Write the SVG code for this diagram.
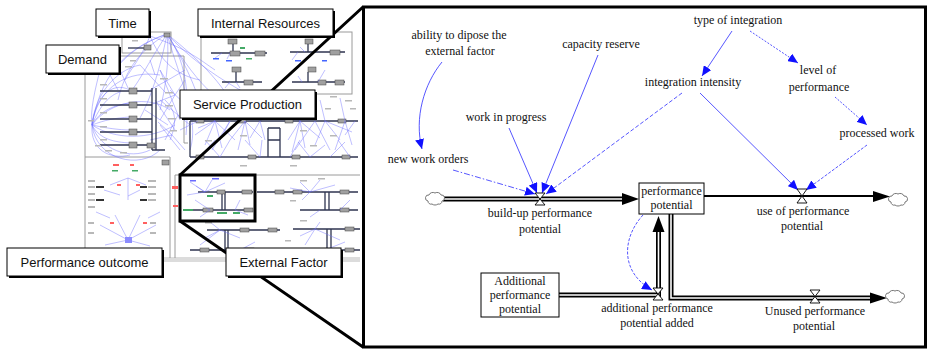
<svg xmlns="http://www.w3.org/2000/svg" width="929" height="350" viewBox="0 0 929 350">
<style>
 .lbl{font-family:"Liberation Sans",Arial,sans-serif;font-size:13px;fill:#111;text-anchor:middle}
 .t{font-family:"Liberation Serif","Times New Roman",serif;font-size:12px;fill:#111;text-anchor:middle}
 .frame{fill:none;stroke:#9a9a9a;stroke-width:1}
 .bl{fill:none;stroke:#6f6fff;stroke-width:0.6;opacity:0.75}
 .dk{fill:none;stroke:#2f3550;stroke-width:1.3}
 .st{fill:#a0a0a0;stroke:#444;stroke-width:0.5}
 .tx{fill:#b8b8b8}
 .rd{fill:#ff6060}
 .gr{fill:#44aa66}
 .lk{fill:none;stroke:#2b2bff;stroke-width:0.8}
 .pipeo{fill:none;stroke:#000;stroke-width:5}
 .pipei{fill:none;stroke:#fff;stroke-width:1.6}
 .valve{fill:#fff;stroke:#000;stroke-width:0.9}
 .cloud{fill:#fff;stroke:#666;stroke-width:0.9}
 .box{fill:#fff;stroke:#000;stroke-width:1}
 .shadow{fill:#000}
 .zoomline{fill:none;stroke:#000;stroke-width:3}
</style>
<defs>
 <marker id="ba" markerUnits="userSpaceOnUse" markerWidth="11" markerHeight="9" refX="10" refY="4.5" orient="auto">
  <path d="M0,0 L10,4.5 L0,9 Z" fill="#1010ff"/>
 </marker>
</defs>
<rect width="929" height="350" fill="#fff"/>

<!-- ===== Thumbnail overview ===== -->
<g id="thumbnail">
 <rect x="163" y="257" width="197" height="5" fill="#dcdcdc"/>
 <!-- frames -->
 <rect class="frame" x="122" y="32" width="49" height="21"/>
 <rect class="frame" x="201" y="32" width="151" height="62"/>
 <path class="frame" d="M85,56 H184 V143 H188 M85,56 V248 M85,157 H170 V258 M175,175 V258 M175,175 H360"/>
 <!-- blue link web -->
 <path class="bl" d="M167,34 C150,60 140,80 132,90 M167,34 C190,70 200,100 205,121 M167,34 C200,60 230,90 240,121 M167,34 C170,60 165,90 160,110 M167,34 C120,50 100,80 92,125 M150,36 C190,50 200,60 215,70 M167,34 C210,80 260,100 300,121"/>
 <path class="bl" d="M167,34 C140,50 125,70 118,100 M167,34 C185,60 190,90 186,135 M167,34 C160,70 150,100 140,118 M167,34 C200,90 225,110 262,121 M167,34 C180,80 200,120 190,150 M150,36 C160,60 175,75 200,80 M167,34 C150,40 130,50 115,70 M150,36 C140,60 130,70 125,80"/>
 <path class="bl" d="M92,125 C95,100 110,80 130,90 M92,125 C100,110 115,105 130,103 M92,125 C105,120 115,118 130,117 M92,125 C105,128 120,130 130,130 M92,125 C100,140 115,142 130,143 M92,125 C100,150 130,160 150,150 M92,125 C95,95 115,70 140,65 M92,125 C96,160 140,170 160,150"/>
 <path class="bl" d="M92,125 C98,85 130,70 160,75 M92,125 C110,100 150,95 170,110 M92,125 C115,140 150,140 175,125 M92,125 C90,150 110,160 130,155 M92,125 C100,105 110,95 120,92 M100,70 C95,90 90,110 92,125"/>
 <path class="bl" d="M160,70 L175,95 M160,70 L180,120 M140,65 L165,92 M165,100 C175,110 178,120 170,140 M170,90 L186,105 M150,60 L155,75 M120,70 L128,88 M110,75 L118,90 M155,100 L175,130 M160,125 L180,150 M145,110 L168,125"/>
 <path class="bl" d="M175,95 L150,105 M175,95 L160,120 M175,95 L185,80 M178,115 L160,100 M178,115 L165,140 M178,115 L190,125 M172,135 L158,122 M172,135 L185,150 M172,135 L150,140 M168,80 L150,90 M168,80 L185,70"/>
 <!-- demand stocks -->
 <path class="dk" d="M100,91 H152 M100,105 H152 M100,119 H152 M100,132 H152 M100,145 H152 M152,88 V150 M156,88 V150 M152,150 H165"/>
 <rect class="st" x="129" y="88" width="8" height="6"/>
 <rect class="st" x="129" y="102" width="8" height="6"/>
 <rect class="st" x="129" y="116" width="8" height="6"/>
 <rect class="st" x="129" y="129" width="8" height="6"/>
 <rect class="st" x="129" y="142" width="8" height="6"/>
 <rect class="st" x="147" y="143" width="8" height="5"/>
 <rect class="st" x="162" y="160" width="7" height="5"/>
 <g class="tx">
  <rect x="100" y="84" width="7" height="1.5"/><rect x="100" y="98" width="7" height="1.5"/><rect x="100" y="112" width="7" height="1.5"/>
  <rect x="100" y="126" width="7" height="1.5"/><rect x="100" y="139" width="7" height="1.5"/><rect x="110" y="68" width="8" height="1.5"/>
  <rect x="125" y="66" width="7" height="1.5"/><rect x="160" y="78" width="8" height="1.5"/><rect x="165" y="92" width="8" height="1.5"/>
  <rect x="165" y="105" width="8" height="1.5"/><rect x="168" y="118" width="8" height="1.5"/><rect x="170" y="130" width="7" height="1.5"/>
  <rect x="105" y="150" width="7" height="1.5"/><rect x="120" y="152" width="7" height="1.5"/><rect x="88" y="120" width="6" height="1.5"/>
  <rect x="95" y="145" width="6" height="1.5"/><rect x="130" y="60" width="6" height="1.5"/>
 </g>
 <!-- time -->
 <path class="dk" d="M128,48 H150" stroke-width="0.8"/>
 <rect class="st" x="144" y="45" width="7" height="5"/>
 <rect class="tx" x="132" y="40" width="6" height="1.5"/>
 <rect class="st" x="164" y="33" width="6" height="4"/>
 <!-- internal resources -->
 <rect x="240" y="35" width="60" height="1.5" fill="#8888dd"/>
 <path class="dk" d="M211,53 H267 M233,43 V53 M222,82 H262 M236,72 V82 M290,52 H345 M308,43 V52 M292,82 H345 M308,72 V82" stroke-width="1"/>
 <rect class="st" x="228" y="39" width="9" height="5"/>
 <rect class="st" x="230" y="51" width="10" height="5"/>
 <rect class="st" x="255" y="51" width="10" height="5"/>
 <rect class="st" x="232" y="67" width="9" height="5"/>
 <rect class="st" x="244" y="80" width="9" height="5"/>
 <rect class="st" x="305" y="39" width="8" height="5"/>
 <rect class="st" x="330" y="50" width="10" height="5"/>
 <rect class="st" x="308" y="67" width="8" height="5"/>
 <rect class="st" x="318" y="80" width="8" height="5"/>
 <rect class="st" x="335" y="80" width="9" height="5"/>
 <rect class="gr" x="240" y="47" width="5" height="2"/><rect class="gr" x="246" y="58" width="6" height="1.5"/>
 <path class="bl" d="M215,58 L222,53 M227,59 L230,53 M300,47 L305,52 M320,46 L315,52 M298,76 L302,82 M325,70 L318,82 M240,88 L236,82 M225,88 L230,82 M292,60 L298,52"/>
 <rect x="213" y="58" width="6" height="1.5" fill="#4466ff"/><rect x="226" y="60" width="6" height="1.5" fill="#4466ff"/>
 <rect x="295" y="60" width="6" height="1.5" fill="#4466ff"/><rect x="322" y="60" width="5" height="1.5" fill="#4466ff"/>
 <!-- service production -->
 <path class="dk" d="M190,121 H358 M190,157 H358 M190,121 V157 M268,128 V157 M280,128 V157 M268,128 H280 M268,140 H280"/>
 <rect class="st" x="196" y="119" width="8" height="4"/><rect class="st" x="238" y="119" width="8" height="4"/>
 <rect class="st" x="285" y="119" width="8" height="4"/><rect class="st" x="338" y="119" width="8" height="4"/>
 <rect class="st" x="196" y="155" width="8" height="4"/><rect class="st" x="248" y="155" width="8" height="4"/>
 <rect class="st" x="292" y="155" width="8" height="4"/><rect class="st" x="342" y="155" width="8" height="4"/>
 <path class="bl" d="M215,121 L195,135 M215,121 L205,145 M215,121 L222,148 M215,121 L235,140 M215,121 L198,128 M245,121 L230,140 M245,121 L250,145 M245,121 L262,138 M245,121 L238,150 M300,121 L288,140 M300,121 L305,148 M300,121 L320,138 M300,121 L292,152 M325,121 L315,145 M325,121 L340,140 M325,121 L352,132 M345,121 L352,145 M345,121 L335,150 M220,157 L205,140 M220,157 L230,140 M310,157 L298,142 M310,157 L325,145 M330,157 L345,142 M180,130 L198,121 M205,100 L215,121 M290,100 L300,121 M320,100 L325,121 M340,98 L345,121"/>
 <path class="bl" d="M260,121 L250,138 M260,121 L265,140 M230,121 L220,140 M230,121 L212,150 M315,121 L330,150 M315,121 L295,150 M355,121 L345,135 M200,157 L215,140 M260,157 L245,140 M260,157 L262,140 M350,157 L338,140 M290,157 L300,140"/>
 <g class="tx">
  <rect x="300" y="130" width="7" height="1.5"/><rect x="330" y="135" width="7" height="1.5"/><rect x="205" y="140" width="7" height="1.5"/>
  <rect x="240" y="135" width="7" height="1.5"/><rect x="310" y="145" width="7" height="1.5"/><rect x="345" y="100" width="7" height="1.5"/>
  <rect x="330" y="96" width="7" height="1.5"/><rect x="350" y="108" width="6" height="1.5"/><rect x="325" y="108" width="6" height="1.5"/>
  <rect x="240" y="165" width="7" height="1.5"/><rect x="290" y="165" width="7" height="1.5"/>
 </g>
 <!-- external factor area -->
 <path class="dk" d="M198,192 H253 M183,210 H253 M222,192 V210 M225,192 V210 M257,192 H358 M300,210 H358 M325,192 V210 M329,192 V210 M207,230 H280 M190,250 H270 M225,230 V250 M228,230 V250 M293,229 H360 M327,229 V250 M331,229 V250 M300,250 H360" stroke-width="1"/>
 <rect class="st" x="217" y="190" width="8" height="4"/><rect class="st" x="242" y="190" width="10" height="4"/>
 <rect class="st" x="203" y="208" width="10" height="4"/><rect class="st" x="244" y="208" width="9" height="4"/>
 <rect class="st" x="275" y="190" width="9" height="4"/><rect class="st" x="293" y="190" width="9" height="4"/>
 <rect class="st" x="340" y="190" width="9" height="4"/><rect class="st" x="340" y="208" width="9" height="4"/>
 <rect class="st" x="240" y="228" width="9" height="4"/><rect class="st" x="268" y="228" width="9" height="4"/>
 <rect class="st" x="200" y="248" width="9" height="4"/><rect class="st" x="245" y="248" width="9" height="4"/>
 <rect class="st" x="345" y="227" width="9" height="4"/><rect class="st" x="345" y="248" width="9" height="4"/>
 <rect class="gr" x="207" y="195" width="6" height="2"/><rect class="gr" x="183" y="209" width="10" height="2"/>
 <rect class="gr" x="217" y="212" width="10" height="2"/><rect class="gr" x="233" y="212" width="7" height="2"/>
 <path class="bl" d="M205,192 L190,182 M205,192 L196,186 M205,192 L212,180 M205,192 L225,183 M205,192 L187,195 M210,210 L195,200 M210,210 L200,217 M235,210 L240,200 M235,210 L248,215 M310,192 L300,182 M310,192 L320,180 M310,192 L335,185 M310,192 L290,188 M310,192 L302,200 M320,210 L310,217 M340,210 L350,200 M220,230 L205,238 M220,230 L210,222 M220,230 L240,238 M220,230 L200,245 M315,229 L300,236 M315,229 L320,222 M315,229 L340,240 M315,229 L305,245 M240,250 L255,242 M325,250 L345,242"/>
 <g class="tx">
  <rect x="190" y="180" width="6" height="1.5" fill="#6b6bff"/><rect x="212" y="178" width="7" height="1.5" fill="#6b6bff"/>
  <rect x="300" y="180" width="7" height="1.5"/><rect x="318" y="178" width="7" height="1.5"/><rect x="290" y="200" width="6" height="1.5"/>
  <rect x="205" y="222" width="7" height="1.5"/><rect x="300" y="220" width="7" height="1.5"/><rect x="285" y="240" width="6" height="1.5"/>
 </g>
 <rect class="rd" x="172" y="186" width="6" height="3"/><rect class="rd" x="173" y="205" width="5" height="2"/>
 <!-- performance outcome -->
 <rect class="rd" x="113" y="164" width="6" height="2"/><rect class="rd" x="130" y="164" width="4" height="2"/>
 <rect class="gr" x="112" y="170" width="6" height="1.5"/><rect class="gr" x="132" y="170" width="6" height="1.5"/>
 <g class="tx">
  <rect x="88" y="180" width="7" height="2"/><rect x="88" y="186" width="7" height="2"/><rect x="88" y="193" width="7" height="2"/>
  <rect x="88" y="199" width="7" height="2"/><rect x="88" y="206" width="7" height="2"/><rect x="148" y="180" width="8" height="2"/>
  <rect x="148" y="186" width="8" height="2"/><rect x="148" y="193" width="8" height="2"/><rect x="148" y="199" width="8" height="2"/>
  <rect x="88" y="222" width="6" height="2"/><rect x="88" y="232" width="6" height="2"/><rect x="150" y="222" width="6" height="2"/><rect x="150" y="232" width="6" height="2"/>
 </g>
 <rect x="96" y="186" width="8" height="2" fill="#333"/><rect x="96" y="199" width="8" height="2" fill="#333"/>
 <rect x="140" y="186" width="7" height="2" fill="#333"/><rect x="140" y="199" width="7" height="2" fill="#333"/>
 <rect class="rd" x="117" y="184" width="4" height="2"/><rect class="rd" x="136" y="184" width="4" height="2"/>
 <rect class="rd" x="110" y="222" width="4" height="2"/><rect class="rd" x="143" y="222" width="4" height="2"/>
 <path class="bl" d="M128,178 L110,185 M128,178 L146,185 M128,178 L128,200 M104,190 L120,195 M140,190 L128,196 M128,240 L100,225 M128,240 L156,225 M128,240 L105,245 M128,240 L150,246 M128,240 L115,215 M128,240 L140,215 M96,212 L110,218 M160,212 L148,218"/>
 <rect x="125" y="237" width="7" height="6" fill="#8c8cff"/>
</g>

<!-- zoom indicator -->
<g id="zoom-indicator">
 <path class="zoomline" d="M180,175 L363,7 M180,221 L363,347"/>
 <rect x="180" y="175" width="75" height="46" fill="none" stroke="#000" stroke-width="3"/>
</g>

<!-- section labels -->
<g id="label-time"><rect class="shadow" x="98" y="11" width="53" height="27"/><rect class="box" x="96" y="9" width="53" height="27"/><text class="lbl" x="122.5" y="28">Time</text></g>
<g id="label-internal"><rect class="shadow" x="200" y="11" width="135" height="27"/><rect class="box" x="198" y="9" width="135" height="27"/><text class="lbl" x="265.5" y="28">Internal Resources</text></g>
<g id="label-demand"><rect class="shadow" x="48" y="47" width="73" height="28"/><rect class="box" x="46" y="45" width="73" height="28"/><text class="lbl" x="82.5" y="64">Demand</text></g>
<g id="label-service"><rect class="shadow" x="182" y="92" width="135" height="28"/><rect class="box" x="180" y="90" width="135" height="28"/><text class="lbl" x="247.5" y="109">Service Production</text></g>
<g id="label-outcome"><rect class="shadow" x="9" y="250" width="155" height="28"/><rect class="box" x="7" y="248" width="155" height="28"/><text class="lbl" x="84.5" y="267">Performance outcome</text></g>
<g id="label-external"><rect class="shadow" x="228" y="250" width="115" height="28"/><rect class="box" x="226" y="248" width="115" height="28"/><text class="lbl" x="283.5" y="267">External Factor</text></g>

<!-- ===== Detail panel ===== -->
<rect x="363.5" y="7" width="562" height="340" fill="none" stroke="#000" stroke-width="3"/>

<g id="connectors">
 <!-- material flows -->
 <path class="pipeo" d="M443,199 H623"/><path class="pipei" d="M443,199 H623"/>
 <polygon points="622,193 639,199 622,205" fill="#000"/>
 <path d="M704,196 H874" fill="none" stroke="#000" stroke-width="1.8"/>
 <polygon points="873,191 890,196.5 873,202" fill="#000"/>
 <path class="pipeo" d="M559,295 H658.5 V232"/><path class="pipei" d="M559,295 H658.5 V232"/>
 <polygon points="652.5,232 658.5,216 664.5,232" fill="#000"/>
 <path class="pipeo" d="M671,214 V298 H871"/><path class="pipei" d="M671,214 V298 H871"/>
 <polygon points="870,292.5 887,298 870,303.5" fill="#000"/>
 <!-- information links -->
 <path class="lk" d="M442,62 C424,84 414,118 422,149" marker-end="url(#ba)"/>
 <path class="lk" d="M453,170 L535,194" stroke-dasharray="6 2 1.5 2" marker-end="url(#ba)"/>
 <path class="lk" d="M509,128 L537,193" marker-end="url(#ba)"/>
 <path class="lk" d="M598,55 L542,193" marker-end="url(#ba)"/>
 <path class="lk" d="M682,93 L546,194" stroke-dasharray="4 2" marker-end="url(#ba)"/>
 <path class="lk" d="M732,31 L702,76" marker-end="url(#ba)"/>
 <path class="lk" d="M750,31 L798,63" stroke-dasharray="2 1.5" marker-end="url(#ba)"/>
 <path class="lk" d="M835,97 L867,125" stroke-dasharray="2 1.5" marker-end="url(#ba)"/>
 <path class="lk" d="M700,93 L798,190" marker-end="url(#ba)"/>
 <path class="lk" d="M867,145 L806,190" stroke-dasharray="3 1.5" marker-end="url(#ba)"/>
 <path class="lk" d="M643,215 C622,238 620,272 652,290" stroke-dasharray="3 1.5" marker-end="url(#ba)"/>
</g>

<g id="cloud-in"><path class="cloud" d="M428,201 a3,3 0 0 1 1,-6 a4,3.5 0 0 1 6,-2 a4,3.5 0 0 1 6,2 a3,3 0 0 1 1,6 a3,3 0 0 1 -4,3 a4,3 0 0 1 -6,0 a3,3 0 0 1 -4,-3 z"/></g>
<g id="cloud-out-use"><path class="cloud" d="M891,202 a3,3 0 0 1 1,-6 a4,3.5 0 0 1 6,-2 a4,3.5 0 0 1 6,2 a3,3 0 0 1 1,6 a3,3 0 0 1 -4,3 a4,3 0 0 1 -6,0 a3,3 0 0 1 -4,-3 z"/></g>
<g id="cloud-out-unused"><path class="cloud" d="M888,299 a3,3 0 0 1 1,-6 a4,3.5 0 0 1 6,-2 a4,3.5 0 0 1 6,2 a3,3 0 0 1 1,6 a3,3 0 0 1 -4,3 a4,3 0 0 1 -6,0 a3,3 0 0 1 -4,-3 z"/></g>

<g id="valve-buildup">
 <path class="valve" d="M535,193 H545 L535,205 H545 Z"/>
 <text class="t" x="540" y="217">build-up performance</text>
 <text class="t" x="540" y="233">potential</text>
</g>
<g id="valve-use">
 <path class="valve" d="M797,189 H807 L797,203 H807 Z"/>
 <text class="t" x="803" y="215">use of performance</text>
 <text class="t" x="802" y="230">potential</text>
</g>
<g id="valve-additional">
 <path class="valve" d="M653,288 H663 L653,300 H663 Z"/>
 <text class="t" x="657" y="312">additional performance</text>
 <text class="t" x="657" y="327">potential added</text>
</g>
<g id="valve-unused">
 <path class="valve" d="M810,290 H820 L810,303 H820 Z"/>
 <text class="t" x="815" y="315">Unused performance</text>
 <text class="t" x="814" y="330">potential</text>
</g>

<g id="stock-performance-potential">
 <rect class="box" x="639" y="183" width="65" height="31"/>
 <text class="t" x="671.5" y="195" fill="#10103a">performance</text>
 <text class="t" x="671.5" y="209" fill="#10103a">potential</text>
</g>
<g id="stock-additional">
 <rect class="box" x="481" y="273" width="78" height="44"/>
 <text class="t" x="520" y="285">Additional</text>
 <text class="t" x="520" y="299">performance</text>
 <text class="t" x="520" y="313">potential</text>
</g>

<g id="var-ability"><text class="t" x="459" y="39">ability to dipose the</text><text class="t" x="460" y="55">external factor</text></g>
<g id="var-capacity"><text class="t" x="601" y="48">capacity reserve</text></g>
<g id="var-wip"><text class="t" x="506" y="121">work in progress</text></g>
<g id="var-new"><text class="t" x="428" y="163">new work orders</text></g>
<g id="var-type"><text class="t" x="738" y="24">type of integration</text></g>
<g id="var-intensity"><text class="t" x="693" y="86">integration intensity</text></g>
<g id="var-level"><text class="t" x="818" y="74">level of</text><text class="t" x="819" y="91">performance</text></g>
<g id="var-processed"><text class="t" x="877" y="137">processed work</text></g>
</svg>
